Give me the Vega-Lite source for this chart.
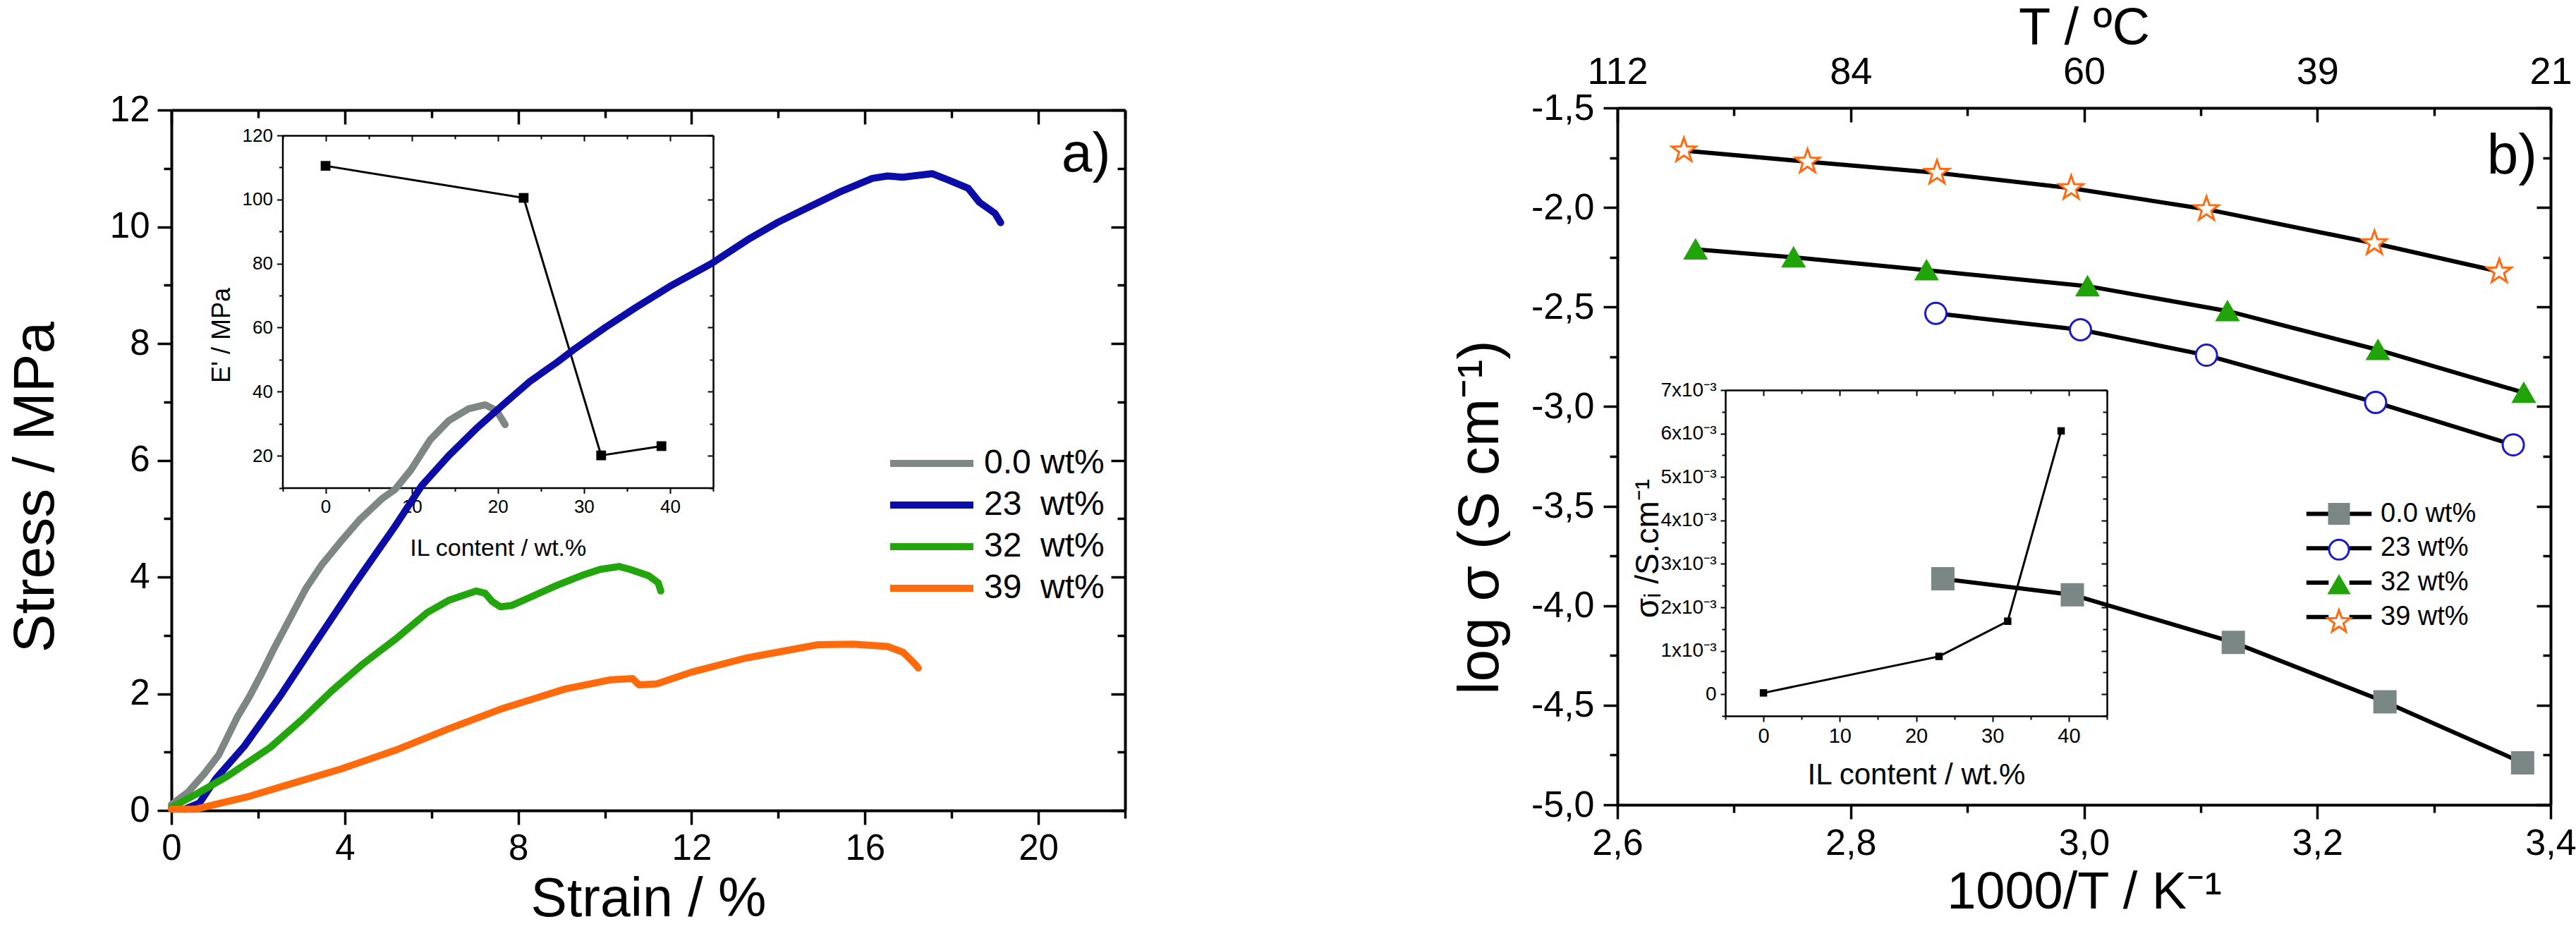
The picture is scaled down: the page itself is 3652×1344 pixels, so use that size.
{
"$schema":"https://vega.github.io/schema/vega-lite/v6.json",
"width":3652,"height":1344,"autosize":{"type":"none"},"padding":0,"background":"white",
"config":{"view":{"stroke":null},
 "axis":{"grid":false,"domainColor":"black","tickColor":"black","labelColor":"black","titleColor":"black","labelFont":"Liberation Sans","titleFont":"Liberation Sans","titleFontWeight":"normal","labelFlush":false,"labelOverlap":false,"labelBound":false},
 "legend":{"labelFont":"Liberation Sans","labelColor":"black","labelLimit":0,"padding":0}},
"datasets":{
 "stress":[
  {"sample":"0.0 wt%","strain":0,"stress":0.1},{"sample":"0.0 wt%","strain":0.38,"stress":0.31},{"sample":"0.0 wt%","strain":0.76,"stress":0.63},{"sample":"0.0 wt%","strain":1.09,"stress":0.95},{"sample":"0.0 wt%","strain":1.52,"stress":1.6},{"sample":"0.0 wt%","strain":1.8,"stress":1.95},{"sample":"0.0 wt%","strain":2.05,"stress":2.3},{"sample":"0.0 wt%","strain":2.35,"stress":2.75},{"sample":"0.0 wt%","strain":2.6,"stress":3.1},{"sample":"0.0 wt%","strain":2.85,"stress":3.45},{"sample":"0.0 wt%","strain":3.1,"stress":3.8},{"sample":"0.0 wt%","strain":3.46,"stress":4.2},{"sample":"0.0 wt%","strain":3.9,"stress":4.6},{"sample":"0.0 wt%","strain":4.34,"stress":4.98},{"sample":"0.0 wt%","strain":4.87,"stress":5.35},{"sample":"0.0 wt%","strain":5.16,"stress":5.5},{"sample":"0.0 wt%","strain":5.53,"stress":5.84},{"sample":"0.0 wt%","strain":5.97,"stress":6.35},{"sample":"0.0 wt%","strain":6.4,"stress":6.68},{"sample":"0.0 wt%","strain":6.85,"stress":6.88},{"sample":"0.0 wt%","strain":7.24,"stress":6.95},{"sample":"0.0 wt%","strain":7.5,"stress":6.85},{"sample":"0.0 wt%","strain":7.7,"stress":6.61},
  {"sample":"23\u00a0 wt%","strain":0.3,"stress":0.02},{"sample":"23\u00a0 wt%","strain":0.65,"stress":0.13},{"sample":"23\u00a0 wt%","strain":1.03,"stress":0.55},{"sample":"23\u00a0 wt%","strain":1.68,"stress":1.1},{"sample":"23\u00a0 wt%","strain":2.5,"stress":1.95},{"sample":"23\u00a0 wt%","strain":3.3,"stress":2.85},{"sample":"23\u00a0 wt%","strain":4.2,"stress":3.85},{"sample":"23\u00a0 wt%","strain":5.16,"stress":4.87},{"sample":"23\u00a0 wt%","strain":5.78,"stress":5.57},{"sample":"23\u00a0 wt%","strain":6.4,"stress":6.08},{"sample":"23\u00a0 wt%","strain":7.03,"stress":6.54},{"sample":"23\u00a0 wt%","strain":7.65,"stress":6.95},{"sample":"23\u00a0 wt%","strain":8.27,"stress":7.35},{"sample":"23\u00a0 wt%","strain":8.9,"stress":7.68},{"sample":"23\u00a0 wt%","strain":9.29,"stress":7.9},{"sample":"23\u00a0 wt%","strain":10.0,"stress":8.27},{"sample":"23\u00a0 wt%","strain":10.7,"stress":8.61},{"sample":"23\u00a0 wt%","strain":11.5,"stress":8.98},{"sample":"23\u00a0 wt%","strain":12.46,"stress":9.37},{"sample":"23\u00a0 wt%","strain":13.3,"stress":9.78},{"sample":"23\u00a0 wt%","strain":14.0,"stress":10.08},{"sample":"23\u00a0 wt%","strain":14.6,"stress":10.3},{"sample":"23\u00a0 wt%","strain":15.46,"stress":10.61},{"sample":"23\u00a0 wt%","strain":16.17,"stress":10.83},{"sample":"23\u00a0 wt%","strain":16.52,"stress":10.87},{"sample":"23\u00a0 wt%","strain":16.87,"stress":10.85},{"sample":"23\u00a0 wt%","strain":17.2,"stress":10.88},{"sample":"23\u00a0 wt%","strain":17.55,"stress":10.91},{"sample":"23\u00a0 wt%","strain":17.93,"stress":10.8},{"sample":"23\u00a0 wt%","strain":18.38,"stress":10.66},{"sample":"23\u00a0 wt%","strain":18.64,"stress":10.42},{"sample":"23\u00a0 wt%","strain":19.0,"stress":10.23},{"sample":"23\u00a0 wt%","strain":19.13,"stress":10.07},
  {"sample":"32\u00a0 wt%","strain":0,"stress":0.05},{"sample":"32\u00a0 wt%","strain":0.55,"stress":0.27},{"sample":"32\u00a0 wt%","strain":1.3,"stress":0.59},{"sample":"32\u00a0 wt%","strain":2.28,"stress":1.08},{"sample":"32\u00a0 wt%","strain":3.0,"stress":1.55},{"sample":"32\u00a0 wt%","strain":3.7,"stress":2.05},{"sample":"32\u00a0 wt%","strain":4.4,"stress":2.5},{"sample":"32\u00a0 wt%","strain":5.16,"stress":2.93},{"sample":"32\u00a0 wt%","strain":5.9,"stress":3.39},{"sample":"32\u00a0 wt%","strain":6.4,"stress":3.6},{"sample":"32\u00a0 wt%","strain":7.03,"stress":3.76},{"sample":"32\u00a0 wt%","strain":7.24,"stress":3.72},{"sample":"32\u00a0 wt%","strain":7.4,"stress":3.58},{"sample":"32\u00a0 wt%","strain":7.59,"stress":3.49},{"sample":"32\u00a0 wt%","strain":7.84,"stress":3.51},{"sample":"32\u00a0 wt%","strain":8.27,"stress":3.65},{"sample":"32\u00a0 wt%","strain":8.9,"stress":3.86},{"sample":"32\u00a0 wt%","strain":9.52,"stress":4.04},{"sample":"32\u00a0 wt%","strain":9.89,"stress":4.13},{"sample":"32\u00a0 wt%","strain":10.33,"stress":4.18},{"sample":"32\u00a0 wt%","strain":10.58,"stress":4.13},{"sample":"32\u00a0 wt%","strain":11.01,"stress":4.02},{"sample":"32\u00a0 wt%","strain":11.23,"stress":3.9},{"sample":"32\u00a0 wt%","strain":11.29,"stress":3.76},
  {"sample":"39\u00a0 wt%","strain":0,"stress":0.02},{"sample":"39\u00a0 wt%","strain":0.55,"stress":0.02},{"sample":"39\u00a0 wt%","strain":0.93,"stress":0.09},{"sample":"39\u00a0 wt%","strain":1.74,"stress":0.23},{"sample":"39\u00a0 wt%","strain":2.82,"stress":0.47},{"sample":"39\u00a0 wt%","strain":3.91,"stress":0.71},{"sample":"39\u00a0 wt%","strain":4.34,"stress":0.82},{"sample":"39\u00a0 wt%","strain":5.16,"stress":1.03},{"sample":"39\u00a0 wt%","strain":6.4,"stress":1.4},{"sample":"39\u00a0 wt%","strain":7.65,"stress":1.75},{"sample":"39\u00a0 wt%","strain":9.08,"stress":2.08},{"sample":"39\u00a0 wt%","strain":10.14,"stress":2.24},{"sample":"39\u00a0 wt%","strain":10.64,"stress":2.26},{"sample":"39\u00a0 wt%","strain":10.79,"stress":2.15},{"sample":"39\u00a0 wt%","strain":11.2,"stress":2.17},{"sample":"39\u00a0 wt%","strain":12.0,"stress":2.37},{"sample":"39\u00a0 wt%","strain":13.25,"stress":2.61},{"sample":"39\u00a0 wt%","strain":14.92,"stress":2.84},{"sample":"39\u00a0 wt%","strain":15.73,"stress":2.85},{"sample":"39\u00a0 wt%","strain":16.52,"stress":2.81},{"sample":"39\u00a0 wt%","strain":16.88,"stress":2.71},{"sample":"39\u00a0 wt%","strain":17.14,"stress":2.52},{"sample":"39\u00a0 wt%","strain":17.23,"stress":2.44}
 ],
 "modulus":[{"il":0,"E":110.5},{"il":23,"E":100.5},{"il":32,"E":20.1},{"il":39,"E":23.0}],
 "ionic":[{"il":0,"sigma":0.00003},{"il":23,"sigma":0.00087},{"il":32,"sigma":0.00168},{"il":39,"sigma":0.00606}],
 "cond":[
  {"sample":"0.0 wt%","invT":2.879,"logs":-3.865},{"sample":"0.0 wt%","invT":2.99,"logs":-3.945},{"sample":"0.0 wt%","invT":3.128,"logs":-4.184},{"sample":"0.0 wt%","invT":3.258,"logs":-4.483},{"sample":"0.0 wt%","invT":3.376,"logs":-4.789},
  {"sample":"23 wt%","invT":2.873,"logs":-2.532},{"sample":"23 wt%","invT":2.997,"logs":-2.614},{"sample":"23 wt%","invT":3.105,"logs":-2.742},{"sample":"23 wt%","invT":3.25,"logs":-2.979},{"sample":"23 wt%","invT":3.368,"logs":-3.192},
  {"sample":"32 wt%","invT":2.667,"logs":-2.21},{"sample":"32 wt%","invT":2.751,"logs":-2.25},{"sample":"32 wt%","invT":2.865,"logs":-2.315},{"sample":"32 wt%","invT":3.003,"logs":-2.395},{"sample":"32 wt%","invT":3.123,"logs":-2.52},{"sample":"32 wt%","invT":3.252,"logs":-2.715},{"sample":"32 wt%","invT":3.377,"logs":-2.93},
  {"sample":"39 wt%","invT":2.657,"logs":-1.714},{"sample":"39 wt%","invT":2.763,"logs":-1.77},{"sample":"39 wt%","invT":2.874,"logs":-1.826},{"sample":"39 wt%","invT":2.989,"logs":-1.903},{"sample":"39 wt%","invT":3.105,"logs":-2.009},{"sample":"39 wt%","invT":3.249,"logs":-2.18},{"sample":"39 wt%","invT":3.356,"logs":-2.322}
 ]
},
"layer":[
 {"data":{"name":"modulus"},
  "mark":{"type":"line","color":"black","strokeWidth":3,"point":{"shape":"square","size":190,"filled":true,"color":"black","opacity":1}},
  "encoding":{
   "x":{"field":"il","type":"quantitative","scale":{"domain":[-5,45],"range":[400.5,1011],"nice":false,"zero":false},
    "axis":{"orient":"bottom","offset":-652.5,"values":[-5,0,5,10,15,20,25,30,35,40,45],"tickSize":{"condition":{"test":"datum.value % 10 === 0","value":8},"value":5},"tickWidth":2,"domainWidth":2.5,"labelExpr":"datum.value % 10 === 0 ? datum.label : ''","labelFontSize":26,"labelPadding":6,"title":"IL content / wt.%","titleFontSize":34,"titleY":96,"titleBaseline":"alphabetic"}},
   "y":{"field":"E","type":"quantitative","scale":{"domain":[10,120],"range":[691.5,192],"nice":false,"zero":false},
    "axis":{"orient":"left","offset":-400.5,"values":[10,20,30,40,50,60,70,80,90,100,110,120],"tickSize":{"condition":{"test":"datum.value % 20 === 0","value":8},"value":5},"tickWidth":2,"domainWidth":2.5,"labelExpr":"datum.value % 20 === 0 ? datum.label : ''","labelFontSize":26,"labelPadding":6,"title":"E' / MPa","titleFontSize":36,"titleAngle":270,"titleX":-75,"titleY":475,"titleBaseline":"alphabetic","titleAlign":"center"}}
  }},
 {"data":{"name":"modulus"},
  "mark":{"type":"point","opacity":0},
  "encoding":{
   "x":{"field":"il","type":"quantitative","scale":{"domain":[-5,45],"range":[400.5,1011],"nice":false,"zero":false},
    "axis":{"orient":"top","offset":-192,"values":[-5,0,5,10,15,20,25,30,35,40,45],"tickSize":{"condition":{"test":"datum.value % 10 === 0","value":-8},"value":-5},"tickWidth":2,"domainWidth":2.5,"labels":false,"title":null}},
   "y":{"field":"E","type":"quantitative","scale":{"domain":[10,120],"range":[691.5,192],"nice":false,"zero":false},
    "axis":{"orient":"right","offset":-2641,"values":[10,20,30,40,50,60,70,80,90,100,110,120],"tickSize":{"condition":{"test":"datum.value % 20 === 0","value":-8},"value":-5},"tickWidth":2,"domainWidth":2.5,"labels":false,"title":null}}
  }},
 {"data":{"name":"stress"},
  "mark":{"type":"line","strokeWidth":10,"strokeCap":"round","strokeJoin":"round"},
  "encoding":{
   "x":{"field":"strain","type":"quantitative","scale":{"domain":[0,22],"range":[243,1595],"nice":false,"zero":false},
    "axis":{"orient":"bottom","offset":-195,"values":[0,2,4,6,8,10,12,14,16,18,20,22],"tickSize":{"condition":{"test":"datum.value % 4 === 0","value":20},"value":11},"tickWidth":3.5,"domainWidth":4,"labelExpr":"datum.value % 4 === 0 ? datum.label : ''","labelFontSize":51,"labelPadding":9,"title":"Strain / %","titleFontSize":77,"titleY":149,"titleBaseline":"alphabetic"}},
   "y":{"field":"stress","type":"quantitative","scale":{"domain":[0,12],"range":[1149,156],"nice":false,"zero":false},
    "axis":{"orient":"left","offset":-243,"values":[0,1,2,3,4,5,6,7,8,9,10,11,12],"tickSize":{"condition":{"test":"datum.value % 2 === 0","value":20},"value":11},"tickWidth":3.5,"domainWidth":4,"labelExpr":"datum.value % 2 === 0 ? datum.label : ''","labelFontSize":51,"labelPadding":11,"title":"Stress / MPa","titleFontSize":82,"titleAngle":270,"titleX":-168,"titleY":690,"titleBaseline":"alphabetic","titleAlign":"center"}},
   "color":{"field":"sample","type":"nominal","scale":{"domain":["0.0 wt%","23\u00a0 wt%","32\u00a0 wt%","39\u00a0 wt%"],"range":["#7f8784","#0c0ca8","#22a50d","#ff6a0d"]},
    "legend":{"orient":"none","legendX":1286.5,"legendY":622.5,"title":null,"symbolType":"M-2,0H2","symbolSize":3481,"symbolStrokeWidth":10,"labelFontSize":48,"labelOffset":39.5,"rowPadding":0}}
  }},
 {"data":{"values":[{"t":"a)"}]},
  "mark":{"type":"text","font":"Liberation Sans","fontSize":78,"align":"center","baseline":"alphabetic","color":"black"},
  "encoding":{
   "text":{"field":"t"},
   "x":{"datum":21.1,"type":"quantitative","scale":{"domain":[0,22],"range":[243,1595],"nice":false,"zero":false},
    "axis":{"orient":"top","offset":-156,"values":[0,2,4,6,8,10,12,14,16,18,20,22],"tickSize":{"condition":{"test":"datum.value % 4 === 0","value":-20},"value":-11},"tickWidth":3.5,"domainWidth":4,"labels":false,"title":null}},
   "y":{"datum":10.95,"type":"quantitative","scale":{"domain":[0,12],"range":[1149,156],"nice":false,"zero":false},
    "axis":{"orient":"right","offset":-2057,"values":[0,1,2,3,4,5,6,7,8,9,10,11,12],"tickSize":{"condition":{"test":"datum.value % 2 === 0","value":-20},"value":-11},"tickWidth":3.5,"domainWidth":4,"labels":false,"title":null}}
  }},
 {"data":{"name":"ionic"},
  "mark":{"type":"line","color":"black","strokeWidth":3,"point":{"shape":"square","size":110,"filled":true,"color":"black","opacity":1}},
  "encoding":{
   "x":{"field":"il","type":"quantitative","scale":{"domain":[-5,45],"range":[2446,2987],"nice":false,"zero":false},
    "axis":{"orient":"bottom","offset":-329,"values":[-5,0,5,10,15,20,25,30,35,40,45],"tickSize":{"condition":{"test":"datum.value % 10 === 0","value":8},"value":5},"tickWidth":2,"domainWidth":2.5,"labelExpr":"datum.value % 10 === 0 ? datum.label : ''","labelFontSize":29,"labelPadding":6,"title":"IL content / wt.%","titleFontSize":42,"titleY":96,"titleBaseline":"alphabetic"}},
   "y":{"field":"sigma","type":"quantitative","scale":{"domain":[-0.0005,0.007],"range":[1015,553],"nice":false,"zero":false},
    "axis":{"orient":"left","offset":-2446,"values":[-0.0005,0,0.0005,0.001,0.0015,0.002,0.0025,0.003,0.0035,0.004,0.0045,0.005,0.0055,0.006,0.0065,0.007],"tickSize":{"condition":{"test":"abs(datum.value*1000 - round(datum.value*1000)) < 0.001","value":7},"value":5},"tickWidth":2,"domainWidth":2.5,"labelExpr":"datum.value === 0 ? '0' : (abs(datum.value*1000 - round(datum.value*1000)) < 0.001 ? format(round(datum.value*1000), 'd') + 'x10\u207b\u00b3' : '')","labelFontSize":28,"labelPadding":6,"title":"\u03c3\u1d62 /S.cm\u207b\u00b9","titleFontSize":46,"titleAngle":270,"titleX":-96,"titleY":777,"titleBaseline":"alphabetic","titleAlign":"center"}}
  }},
 {"data":{"name":"ionic"},
  "mark":{"type":"point","opacity":0},
  "encoding":{
   "x":{"field":"il","type":"quantitative","scale":{"domain":[-5,45],"range":[2446,2987],"nice":false,"zero":false},
    "axis":{"orient":"top","offset":-553,"values":[-5,0,5,10,15,20,25,30,35,40,45],"tickSize":{"condition":{"test":"datum.value % 10 === 0","value":-8},"value":-5},"tickWidth":2,"domainWidth":2.5,"labels":false,"title":null}},
   "y":{"field":"sigma","type":"quantitative","scale":{"domain":[-0.0005,0.007],"range":[1015,553],"nice":false,"zero":false},
    "axis":{"orient":"right","offset":-665,"values":[-0.0005,0,0.0005,0.001,0.0015,0.002,0.0025,0.003,0.0035,0.004,0.0045,0.005,0.0055,0.006,0.0065,0.007],"tickSize":{"condition":{"test":"abs(datum.value*1000 - round(datum.value*1000)) < 0.001","value":-8},"value":-6},"tickWidth":2,"domainWidth":2.5,"labels":false,"title":null}}
  }},
 {"data":{"name":"cond"},
  "mark":{"type":"line","strokeWidth":6},
  "encoding":{
   "x":{"field":"invT","type":"quantitative","scale":{"domain":[2.6,3.4],"range":[2293,3616],"nice":false,"zero":false},
    "axis":{"orient":"bottom","offset":-203,"values":[2.6,2.7,2.8,2.9,3.0,3.1,3.2,3.3,3.4],"tickSize":{"condition":{"test":"abs(datum.value*5 - round(datum.value*5)) < 0.001","value":20},"value":11},"tickWidth":3.5,"domainWidth":4,"labelExpr":"abs(datum.value*5 - round(datum.value*5)) < 0.001 ? replace(format(datum.value, '.1f'), '.', ',') : ''","labelFontSize":52,"labelPadding":9,"title":"1000/T / K\u207b\u00b9","titleFontSize":74,"titleY":146,"titleBaseline":"alphabetic"}},
   "y":{"field":"logs","type":"quantitative","scale":{"domain":[-5,-1.5],"range":[1141,153],"nice":false,"zero":false},
    "axis":{"orient":"left","offset":-2293,"values":[-5,-4.75,-4.5,-4.25,-4,-3.75,-3.5,-3.25,-3,-2.75,-2.5,-2.25,-2,-1.75,-1.5],"tickSize":{"condition":{"test":"abs(datum.value*2 - round(datum.value*2)) < 0.001","value":20},"value":11},"tickWidth":3.5,"domainWidth":4,"labelExpr":"abs(datum.value*2 - round(datum.value*2)) < 0.001 ? replace(replace(format(datum.value, '.1f'), '.', ','), '\u2212', '-') : ''","labelFontSize":52,"labelPadding":13,"title":"log \u03c3 (S cm\u207b\u00b9)","titleFontSize":82,"titleAngle":270,"titleX":-170,"titleY":733,"titleBaseline":"alphabetic","titleAlign":"center"}},
   "stroke":{"field":"sample","type":"nominal","scale":{"domain":["0.0 wt%","23 wt%","32 wt%","39 wt%"],"range":["black","black","black","black"]},
    "legend":{"orient":"none","legendX":3297,"legendY":709.6,"title":null,"symbolType":"M-3.3,0H-1.05M1.05,0H3.3","symbolSize":784,"symbolStrokeWidth":6,"labelFontSize":38,"labelOffset":40,"rowPadding":10.7}}
  }},
 {"data":{"name":"cond"},
  "mark":{"type":"point","size":900,"strokeWidth":3,"opacity":1},
  "encoding":{
   "x":{"field":"invT","type":"quantitative","scale":{"domain":[2.6,3.4],"range":[2293,3616],"nice":false,"zero":false},
    "axis":{"orient":"top","offset":-153,"values":[2.6,2.7,2.8,2.9,3.0,3.1,3.2,3.3,3.4],"tickSize":{"condition":{"test":"abs(datum.value*5 - round(datum.value*5)) < 0.001","value":-20},"value":-11},"tickWidth":3.5,"domainWidth":4,"labelExpr":"abs(datum.value-2.6)<0.01 ? '112' : abs(datum.value-2.8)<0.01 ? '84' : abs(datum.value-3.0)<0.01 ? '60' : abs(datum.value-3.2)<0.01 ? '39' : abs(datum.value-3.4)<0.01 ? '21' : ''","labelFontSize":54,"labelPadding":55,"labelBaseline":"alphabetic","title":"T / \u00baC","titleFontSize":74,"titleY":-91,"titleBaseline":"alphabetic"}},
   "y":{"field":"logs","type":"quantitative","scale":{"domain":[-5,-1.5],"range":[1141,153],"nice":false,"zero":false},
    "axis":{"orient":"right","offset":-36,"values":[-5,-4.75,-4.5,-4.25,-4,-3.75,-3.5,-3.25,-3,-2.75,-2.5,-2.25,-2,-1.75,-1.5],"tickSize":{"condition":{"test":"abs(datum.value*2 - round(datum.value*2)) < 0.001","value":-20},"value":-11},"tickWidth":3.5,"domainWidth":4,"labels":false,"title":null}},
   "shape":{"field":"sample","type":"nominal","scale":{"domain":["0.0 wt%","23 wt%","32 wt%","39 wt%"],"range":["square","circle","triangle-up","M0,-1.2L0.282,-0.389L1.141,-0.371L0.456,0.149L0.706,0.971L0,0.48L-0.706,0.971L-0.456,0.149L-1.141,-0.371L-0.282,-0.389Z"]},
    "legend":{"orient":"none","legendX":3297,"legendY":709.6,"title":null,"symbolSize":784,"symbolStrokeWidth":3,"labelFontSize":38,"labelOffset":40,"rowPadding":10.7,"labelOpacity":0}},
   "fill":{"field":"sample","type":"nominal","scale":{"domain":["0.0 wt%","23 wt%","32 wt%","39 wt%"],"range":["#7b8785","white","#21a30a","white"]},
    "legend":{"orient":"none","legendX":3297,"legendY":709.6,"title":null,"symbolSize":784,"symbolStrokeWidth":3,"labelFontSize":38,"labelOffset":40,"rowPadding":10.7,"labelOpacity":0}},
   "stroke":{"field":"sample","type":"nominal","scale":{"domain":["0.0 wt%","23 wt%","32 wt%","39 wt%"],"range":["#7b8785","#1a1acc","#21a30a","#ff6a10"]},
    "legend":{"orient":"none","legendX":3297,"legendY":709.6,"title":null,"symbolSize":784,"symbolStrokeWidth":3,"labelFontSize":38,"labelOffset":40,"rowPadding":10.7,"labelOpacity":0}}
  }},
 {"data":{"values":[{"t":"b)"}]},
  "mark":{"type":"text","font":"Liberation Sans","fontSize":80,"align":"center","baseline":"alphabetic","color":"black"},
  "encoding":{
   "text":{"field":"t"},
   "x":{"datum":3.367,"type":"quantitative","scale":{"domain":[2.6,3.4],"range":[2293,3616],"nice":false,"zero":false},"axis":null},
   "y":{"datum":-1.83,"type":"quantitative","scale":{"domain":[-5,-1.5],"range":[1141,153],"nice":false,"zero":false},"axis":null}
  }}
],
"resolve":{"scale":{"x":"independent","y":"independent","color":"independent","stroke":"independent","fill":"independent","shape":"independent"}}
}
